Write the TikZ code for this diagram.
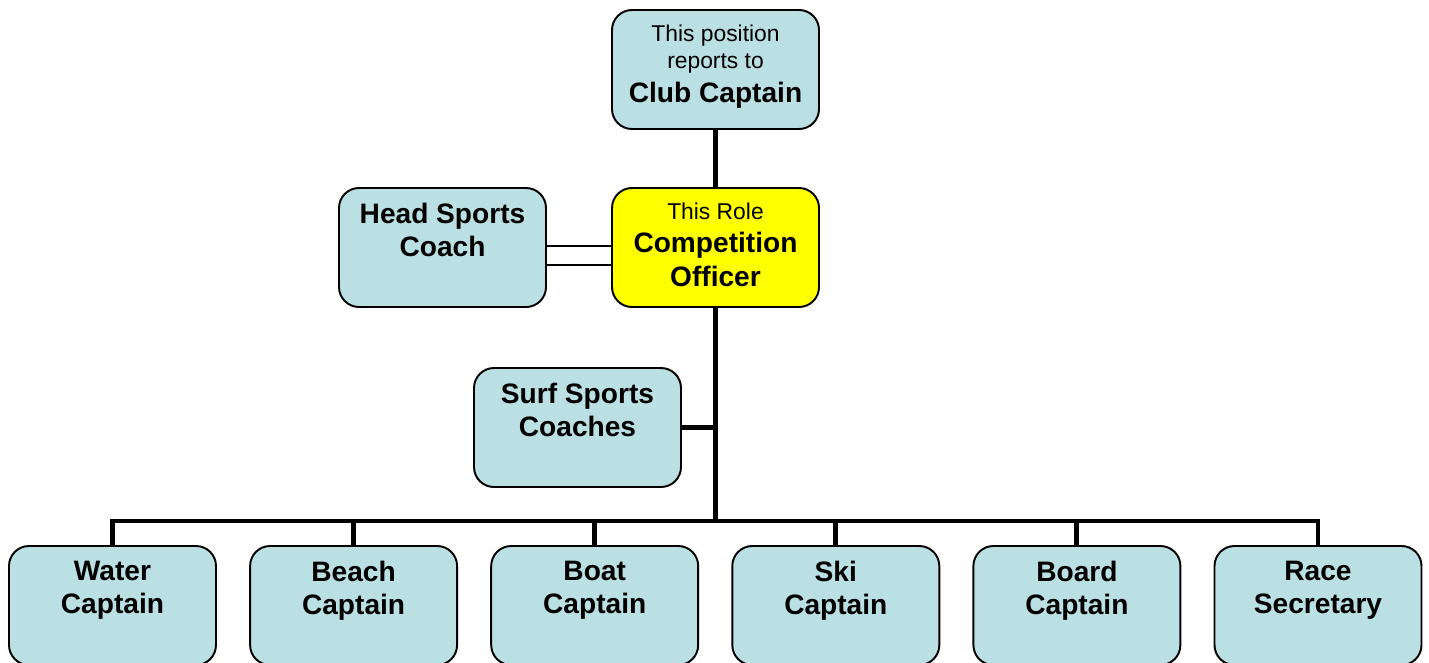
\documentclass[tikz,border=0pt]{standalone}
\usepackage{fontspec}
\setmainfont{Liberation Sans}
\usetikzlibrary{positioning}

\definecolor{boxblue}{RGB}{186,224,228}
\definecolor{roleyellow}{RGB}{255,255,0}

% text inside a box: top aligned, centred
\newcommand{\boxtxt}[1]{\parbox[c][2.38cm][t]{4.14cm}{\centering\vspace*{0.3cm}#1}}
\newcommand{\bigline}[1]{{\fontsize{16}{19}\selectfont\bfseries #1\par}}
\newcommand{\smallline}[1]{{\fontsize{13}{15.5}\selectfont #1\par}}

\tikzset{
  orgbox/.style={draw=black, line width=1.1pt, fill=boxblue, rounded corners=0.4cm, inner sep=0pt},
  rolebox/.style={orgbox, fill=roleyellow},
  conn/.style={line width=2.8pt},
  twin/.style={double, line width=0.8pt, double distance=10pt},
}

\begin{document}
\begin{tikzpicture}
  \useasboundingbox (0,0) rectangle (28.58,-13.24);

  % top and role boxes
  \node[orgbox] (club) at (14.31,-1.39) {\boxtxt{\smallline{This position\\reports to}\bigline{Club Captain}}};
  \node[rolebox] (role) at (14.31,-4.95) {\boxtxt{\smallline{This Role}\bigline{Competition\\Officer}}};
  \node[orgbox] (head) at (8.85,-4.95) {\boxtxt{\bigline{Head Sports\\Coach}}};
  \node[orgbox] (surf) at (11.55,-8.55) {\boxtxt{\bigline{Surf Sports\\Coaches}}};

  % bus line
  \coordinate (bus) at (14.31,-10.42);

  % bottom row
  \foreach \nm/\ta/\tb [count=\i from 0] in {water/Water/Captain, beach/Beach/Captain, boat/Boat/Captain, ski/Ski/Captain, board/Board/Captain, race/Race/Secretary}
    \node[orgbox] (\nm) at ({2.25+4.822*\i},-12.11) {\boxtxt{\bigline{\ta\\\tb}}};

  % connectors
  \draw[conn] (club) -- (role);
  \draw[conn] (role) -- (bus);
  \draw[conn] (surf) -- (surf -| role);
  \draw[twin] ([yshift=-0.16cm]head.east) -- ([yshift=-0.16cm]role.west);
  \draw[conn] (water.north) |- (bus) -| (race.north);
  \foreach \nm in {beach, boat, ski, board}
    \draw[conn] (\nm.north) -- (\nm.north |- bus);
\end{tikzpicture}
\end{document}
